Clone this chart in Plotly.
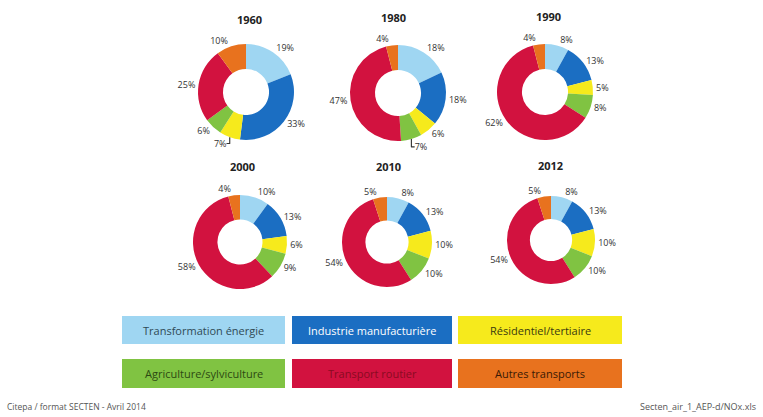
import plotly.graph_objects as go

W, H = 763, 417

categories = ["Transformation énergie", "Industrie manufacturière", "Résidentiel/tertiaire",
              "Agriculture/sylviculture", "Transport routier", "Autres transports"]
colors = ["#9fd6f2", "#1b6ec2", "#f6ea1c", "#80c342", "#d2123f", "#e8721e"]
legend_text_colors = ["#2f4a55", "#ffffff", "#3a3a10", "#2d4a12", "#8a0b22", "#3a1a05"]

years = ["1960", "1980", "1990", "2000", "2010", "2012"]
v1960 = [19, 33, 7, 6, 25, 10]
v1980 = [18, 18, 6, 7, 47, 4]
v1990 = [8, 13, 5, 8, 62, 4]
v2000 = [10, 13, 6, 9, 58, 4]
v2010 = [8, 13, 10, 10, 54, 5]
v2012 = [8, 13, 10, 10, 54, 5]
values = [v1960, v1980, v1990, v2000, v2010, v2012]

# layout geometry in pixels (center x, center y, radius) and title positions
pie_geom = [(246, 92, 48), (398, 93, 48), (545, 92, 48),
            (240, 242, 47), (387, 242, 45), (551, 240, 44)]
title_pos = [(249, 19), (393, 18), (548, 17), (242, 167), (388, 167), (550, 165)]

fig = go.Figure()
for yr, vals, (cx, cy, r) in zip(years, values, pie_geom):
    fig.add_trace(go.Pie(
        labels=categories, values=vals, sort=False, direction="clockwise", rotation=0,
        hole=0.48, marker=dict(colors=colors, line=dict(width=0)),
        textposition="outside", texttemplate="%{value}%",
        textfont=dict(family="Open Sans", size=9, color="#333333"),
        domain=dict(x=[(cx - r) / W, (cx + r) / W], y=[1 - (cy + r) / H, 1 - (cy - r) / H]),
        showlegend=False, name=yr, hoverinfo="label+value"))

annotations = []
for yr, (tx, ty) in zip(years, title_pos):
    annotations.append(dict(x=tx / W, y=1 - ty / H, xref="paper", yref="paper", text="<b>" + yr + "</b>",
                            showarrow=False, font=dict(family="Open Sans", size=11, color="#222222"),
                            xanchor="center", yanchor="middle"))

# legend boxes
box_cols = [(122, 285), (292, 452), (458, 622)]
box_rows = [(316, 344), (359, 388)]
shapes = []
for i, (cat, col, tcol) in enumerate(zip(categories, colors, legend_text_colors)):
    x0, x1 = box_cols[i % 3]
    y0, y1 = box_rows[i // 3]
    shapes.append(dict(type="rect", xref="paper", yref="paper", x0=x0 / W, x1=x1 / W,
                       y0=1 - y1 / H, y1=1 - y0 / H, fillcolor=col, line=dict(width=0), layer="below"))
    annotations.append(dict(x=(x0 + x1) / 2 / W, y=1 - (y0 + y1) / 2 / H, xref="paper", yref="paper",
                            text=cat, showarrow=False, xanchor="center", yanchor="middle",
                            font=dict(family="Open Sans", size=11, color=tcol)))

annotations.append(dict(x=5 / W, y=1 - 406 / H, xref="paper", yref="paper", text="Citepa / format SECTEN - Avril 2014",
                        showarrow=False, xanchor="left", yanchor="middle",
                        font=dict(family="Open Sans", size=8.5, color="#555555")))
annotations.append(dict(x=758 / W, y=1 - 406 / H, xref="paper", yref="paper", text="Secten_air_1_AEP-d/NOx.xls",
                        showarrow=False, xanchor="right", yanchor="middle",
                        font=dict(family="Open Sans", size=9, color="#555555")))

fig.update_layout(width=W, height=H, margin=dict(l=0, r=0, t=0, b=0),
                  paper_bgcolor="white", plot_bgcolor="white",
                  annotations=annotations, shapes=shapes)
fig.write_html("out.html", config={"displayModeBar": False},
               post_script="document.body.style.margin='0';document.body.style.overflow='hidden';")
